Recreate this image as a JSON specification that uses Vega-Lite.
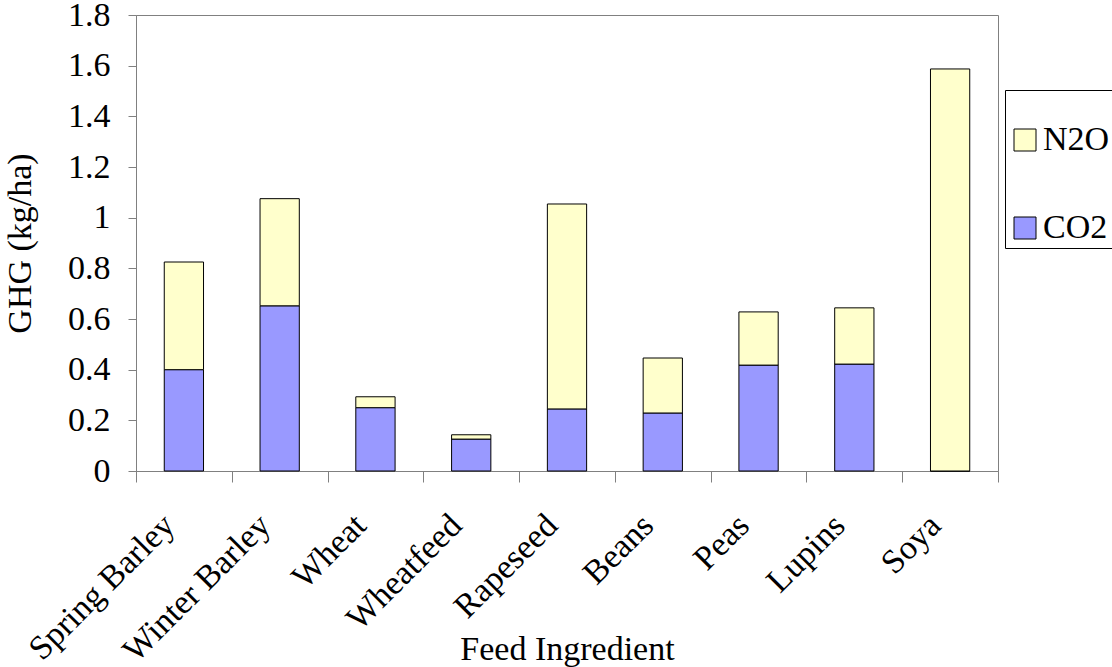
{
  "$schema": "https://vega.github.io/schema/vega-lite/v6.json",
  "width": 862,
  "height": 456,
  "autosize": {"type": "none"},
  "padding": {"left": 136, "top": 15, "right": 114, "bottom": 196},
  "background": "white",
  "config": {
    "font": "Liberation Serif",
    "view": {"stroke": "#808080", "strokeWidth": 1}
  },
  "data": {
    "values": [
      {"ingredient": "Spring Barley", "gas": "CO2", "value": 0.40},
      {"ingredient": "Spring Barley", "gas": "N2O", "value": 0.425},
      {"ingredient": "Winter Barley", "gas": "CO2", "value": 0.652},
      {"ingredient": "Winter Barley", "gas": "N2O", "value": 0.423},
      {"ingredient": "Wheat", "gas": "CO2", "value": 0.25},
      {"ingredient": "Wheat", "gas": "N2O", "value": 0.043},
      {"ingredient": "Wheatfeed", "gas": "CO2", "value": 0.126},
      {"ingredient": "Wheatfeed", "gas": "N2O", "value": 0.017},
      {"ingredient": "Rapeseed", "gas": "CO2", "value": 0.245},
      {"ingredient": "Rapeseed", "gas": "N2O", "value": 0.809},
      {"ingredient": "Beans", "gas": "CO2", "value": 0.229},
      {"ingredient": "Beans", "gas": "N2O", "value": 0.217},
      {"ingredient": "Peas", "gas": "CO2", "value": 0.418},
      {"ingredient": "Peas", "gas": "N2O", "value": 0.21},
      {"ingredient": "Lupins", "gas": "CO2", "value": 0.422},
      {"ingredient": "Lupins", "gas": "N2O", "value": 0.222},
      {"ingredient": "Soya", "gas": "CO2", "value": 0},
      {"ingredient": "Soya", "gas": "N2O", "value": 1.587}
    ]
  },
  "mark": {"type": "bar", "stroke": "black", "strokeWidth": 1, "width": {"band": 0.41}},
  "encoding": {
    "x": {
      "field": "ingredient",
      "type": "nominal",
      "sort": null,
      "scale": {"paddingInner": 0, "paddingOuter": 0},
      "axis": {
        "title": "Feed Ingredient",
        "grid": false,
        "domainColor": "#808080",
        "tickColor": "#808080",
        "labelColor": "black",
        "titleColor": "black",
        "labelFont": "Liberation Serif",
        "titleFont": "Liberation Serif",
        "labelFontSize": 34,
        "titleFontSize": 34,
        "titleFontWeight": "normal",
        "labelAngle": -45,
        "labelAlign": "right",
        "labelBaseline": "middle",
        "labelPadding": 38,
        "labelOffset": -15,
        "labelLimit": 400,
        "tickBand": "extent",
        "tickSize": 11,
        "titleY": 188,
        "titleBaseline": "alphabetic"
      }
    },
    "y": {
      "field": "value",
      "type": "quantitative",
      "stack": "zero",
      "scale": {"domain": [0, 1.8], "nice": false},
      "axis": {
        "title": "GHG (kg/ha)",
        "grid": false,
        "domainColor": "#808080",
        "tickColor": "#808080",
        "labelColor": "black",
        "titleColor": "black",
        "labelFont": "Liberation Serif",
        "titleFont": "Liberation Serif",
        "labelFontSize": 34,
        "titleFontSize": 34,
        "titleFontWeight": "normal",
        "values": [0, 0.2, 0.4, 0.6, 0.8, 1, 1.2, 1.4, 1.6, 1.8],
        "format": "~g",
        "tickSize": 8,
        "labelPadding": 18,
        "titlePadding": 30
      }
    },
    "color": {
      "field": "gas",
      "type": "nominal",
      "scale": {"domain": ["N2O", "CO2"], "range": ["#FFFFCC", "#9999FF"]},
      "legend": {
        "orient": "none",
        "legendX": 869,
        "legendY": 75,
        "title": " ",
        "titleFontSize": 30,
        "titlePadding": 0,
        "padding": 3,
        "strokeColor": "black",
        "fillColor": "white",
        "symbolType": "square",
        "symbolSize": 484,
        "symbolStrokeColor": "black",
        "symbolStrokeWidth": 1,
        "symbolOpacity": 1,
        "labelFont": "Liberation Serif",
        "labelFontSize": 34,
        "labelColor": "black",
        "labelOffset": 1,
        "rowPadding": 54
      }
    },
    "order": {"field": "gas", "sort": "ascending"}
  }
}
